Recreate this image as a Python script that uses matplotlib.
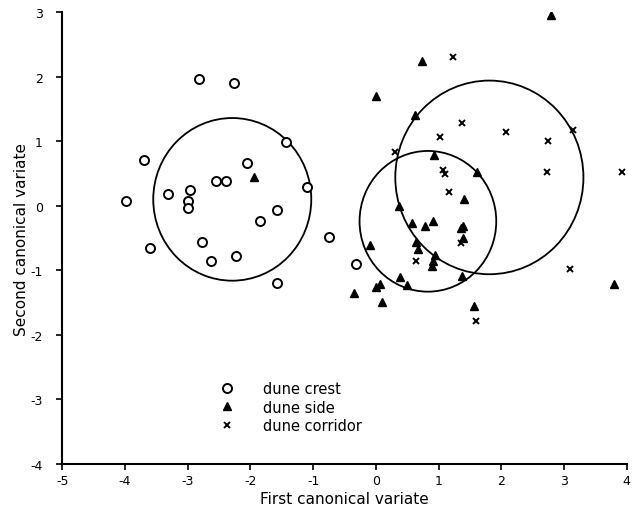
import matplotlib
matplotlib.use('Agg')
import matplotlib.pyplot as plt
from matplotlib.patches import Ellipse

plt.rcParams['font.family'] = ['DejaVu Sans']
plt.rcParams['axes.unicode_minus'] = False

# dune crest (open circles)
crest_x = [-2.82, -2.27, -3.70, -2.05, -1.43, -2.55, -2.39, -2.96, -3.31, -3.00,
           -3.00, -3.99, -1.10, -1.58, -1.84, -0.74, -3.60, -2.78, -2.63, -2.23,
           -1.58, -0.32]
crest_y = [1.97, 1.91, 0.71, 0.66, 0.99, 0.38, 0.39, 0.25, 0.18, 0.08,
           -0.04, 0.07, 0.29, -0.06, -0.24, -0.49, -0.66, -0.56, -0.86, -0.77,
           -1.20, -0.90]

# dune side (triangles)
side_x = [2.80, 0.73, 0.00, 0.63, 0.92, 1.61, 1.41, 0.37, 0.57, 0.78,
          0.91, 1.36, 1.39, 1.39, 0.64, 0.67, 0.95, 0.91, 0.90, 1.37,
          0.38, 0.49, -0.10, 0.06, 0.01, -0.35, 0.09, 1.57, 3.80, -1.94]
side_y = [2.95, 2.24, 1.70, 1.40, 0.78, 0.52, 0.11, 0.00, -0.26, -0.31,
          -0.23, -0.35, -0.31, -0.50, -0.56, -0.67, -0.76, -0.85, -0.93, -1.08,
          -1.11, -1.22, -0.60, -1.21, -1.26, -1.35, -1.49, -1.55, -1.21, 0.44]

# dune corridor (crosses)
corr_x = [1.23, 1.37, 1.02, 2.07, 2.75, 3.15, 0.30, 1.07, 1.11, 2.73,
          3.92, 1.17, 1.35, 0.64, 3.10, 1.59]
corr_y = [2.31, 1.28, 1.07, 1.14, 1.01, 1.18, 0.83, 0.56, 0.49, 0.52,
          0.53, 0.22, -0.57, -0.85, -0.98, -1.78]

# group circles
circle_cx = [-2.29, 0.83, 1.81]
circle_cy = [0.10, -0.24, 0.44]
circle_r = [1.26, 1.09, 1.50]

x_ticks = [-5, -4, -3, -2, -1, 0, 1, 2, 3, 4]
y_ticks = [-4, -3, -2, -1, 0, 1, 2, 3]

fig = plt.figure(figsize=(6.32, 5.10), dpi=100)
ax = fig.add_axes([0.0986, 0.0882, 0.893, 0.886])

for cx, cy, r in zip(circle_cx, circle_cy, circle_r):
    ax.add_patch(Ellipse((cx, cy), 2 * r, 2 * r, fill=False,
                         edgecolor='black', linewidth=1.3))

ax.plot(crest_x, crest_y, 'o', markersize=6.5, markerfacecolor='white',
        markeredgecolor='black', markeredgewidth=1.4, label='dune crest')
ax.plot(side_x, side_y, '^', markersize=5.5, color='black', label='dune side')
ax.plot(corr_x, corr_y, 'x', markersize=5, markeredgewidth=1.4,
        color='black', label='dune corridor')

ax.set_xlim(-5, 4)
ax.set_ylim(-4, 3)
ax.set_xticks(x_ticks)
ax.set_xticklabels([str(t) for t in x_ticks])
ax.set_yticks(y_ticks)
ax.set_yticklabels([str(t) for t in y_ticks])
ax.tick_params(axis='both', direction='out', length=4, width=1.2,
               labelsize=9, pad=3)
ax.tick_params(axis='y', pad=10)

for side in ['top', 'right']:
    ax.spines[side].set_visible(False)
for side in ['left', 'bottom']:
    ax.spines[side].set_linewidth(1.5)

ax.set_xlabel('First canonical variate', fontsize=11, labelpad=3)
ax.set_ylabel('Second canonical variate', fontsize=11, labelpad=1)

ax.legend(loc='upper left', bbox_to_anchor=(0.2785, 0.183), frameon=False,
          fontsize=10.5, handlelength=1.0, handletextpad=1.97,
          labelspacing=0.22, borderpad=0, borderaxespad=0)

fig.savefig('out.png', dpi=100)
